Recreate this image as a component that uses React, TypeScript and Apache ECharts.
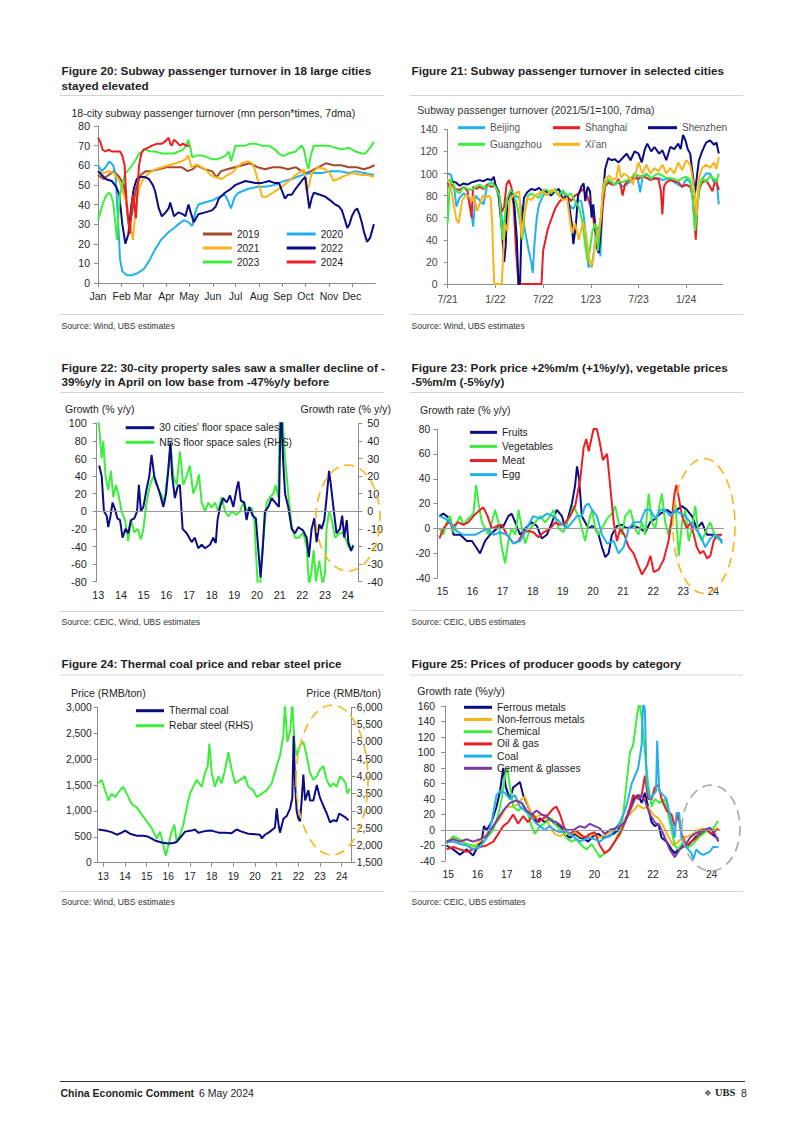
import React, { useEffect, useRef } from 'react';
import * as echarts from 'echarts';

type P = [number, number][];

const FONT = '"Liberation Sans", Arial, Helvetica, sans-serif';
const NAVY = '#0c0c84';
const BLUE = '#22b0ee';
const RED = '#ee1d23';
const GREEN = '#3dee3d';
const ORANGE = '#fbb41a';
const BROWN = '#a34a2e';
const PURPLE = '#7a3aa6';
const AXIS = '#8c8c8c';
const TEXT = '#1e1e1e';

// ---------- Figure 20 : day of year ----------
const monthLabels = ['Jan', 'Feb', 'Mar', 'Apr', 'May', 'Jun', 'Jul', 'Aug', 'Sep', 'Oct', 'Nov', 'Dec'];
const monthStarts = [0, 31, 59, 90, 120, 151, 181, 212, 243, 273, 304, 334];
const y2019: P = [[0,55],[7,53],[14,55],[21,57],[28,54],[34,50],[38,38],[41,28],[45,36],[50,48],[56,55],[63,57],[70,57],[80,58],[90,59],[100,59],[110,59],[118,57],[125,58],[130,60],[140,58],[150,57],[156,54],[162,57],[170,58],[180,59],[190,60],[200,61],[210,59],[220,58],[230,59],[240,59],[250,58],[260,59],[268,57],[274,56],[280,57],[290,59],[300,61],[310,60],[320,60],[330,59],[340,59],[350,58],[358,59],[364,60]];
const y2020: P = [[0,60],[5,57],[10,59],[15,62],[20,60],[23,55],[26,35],[29,12],[32,6],[38,4],[45,4],[52,5],[60,7],[67,11],[75,17],[83,22],[93,26],[100,28],[106,30],[113,32],[119,31],[124,29],[128,36],[132,40],[140,41],[150,42],[160,44],[167,45],[172,41],[175,38],[180,44],[185,46],[198,48],[210,49],[220,49],[233,50],[245,52],[255,53],[268,55],[281,56],[295,56],[305,57],[317,57],[330,56],[339,57],[350,56],[363,55]];
const y2021: P = [[0,57],[7,56],[14,57],[21,56],[28,52],[34,45],[38,40],[42,30],[46,22],[50,40],[54,48],[58,52],[67,56],[76,58],[84,59],[93,60],[102,61],[110,62],[115,63],[119,65],[123,59],[128,60],[132,60],[141,58],[148,55],[154,54],[163,53],[170,55],[176,56],[183,59],[189,61],[198,62],[203,61],[207,57],[212,50],[216,44],[222,44],[230,46],[238,48],[245,50],[251,52],[260,55],[268,57],[271,58],[274,47],[278,50],[281,56],[290,59],[299,58],[305,56],[310,52],[316,53],[321,54],[334,56],[347,55],[355,55],[363,54]];
const y2022: P = [[0,57],[5,55],[10,53],[18,52],[24,49],[28,45],[32,30],[36,20],[40,25],[44,40],[47,48],[51,53],[54,54],[62,54],[67,53],[72,50],[75,47],[80,38],[84,34],[89,36],[93,38],[95,41],[100,34],[106,36],[112,35],[115,34],[119,40],[122,36],[126,31],[132,35],[141,36],[150,37],[155,39],[159,43],[167,46],[175,48],[181,50],[194,52],[207,51],[216,51],[225,52],[232,51],[238,51],[243,46],[246,43],[250,45],[255,45],[260,48],[264,50],[270,53],[273,54],[276,44],[278,38],[281,43],[284,46],[292,45],[299,44],[306,42],[312,40],[317,39],[321,37],[325,32],[328,28],[331,30],[334,34],[338,37],[341,38],[344,35],[347,31],[350,26],[354,21],[358,23],[363,30]];
const y2023: P = [[0,32],[3,36],[6,40],[10,44],[14,46],[17,45],[20,41],[23,30],[25,22],[27,35],[29,45],[33,52],[36,56],[41,58],[45,60],[50,63],[54,66],[62,68],[70,67],[75,67],[84,66],[93,66],[100,66],[106,67],[112,68],[116,70],[119,73],[122,68],[124,64],[130,65],[137,65],[144,64],[150,63],[157,63],[163,64],[168,65],[172,67],[175,62],[178,66],[181,70],[190,70],[194,70],[200,71],[207,71],[215,70],[225,70],[233,68],[238,66],[242,65],[246,65],[251,66],[260,67],[265,69],[268,70],[271,68],[274,62],[277,58],[280,65],[284,70],[293,70],[303,70],[312,69],[321,68],[330,69],[339,67],[347,66],[352,66],[356,68],[360,70],[363,72]];
const y2024: P = [[0,74],[3,72],[6,68],[10,67],[14,68],[18,67],[23,67],[29,67],[32,65],[35,60],[37,45],[39,35],[42,25],[44,38],[46,45],[48,40],[50,33],[52,48],[54,60],[57,66],[60,68],[66,69],[71,70],[78,71],[84,71],[88,72],[93,74],[95,71],[97,70],[100,73],[103,72],[108,70],[112,71],[116,70],[120,70]];

// ---------- Figure 21 : months since Jul-2021 ----------
const f21Ticks = [0, 6, 12, 18, 24, 30];
const f21Labels = ['7/21', '1/22', '7/22', '1/23', '7/23', '1/24'];
const beijing: P = [[0,100],[0.4,99],[0.8,88],[1.1,70],[1.5,78],[2,82],[2.5,80],[2.9,70],[3.2,52],[3.5,80],[4,76],[4.5,72],[5,90],[5.5,92],[6,90],[6.4,84],[6.8,60],[7.1,48],[7.4,75],[8,82],[8.5,80],[9,78],[9.4,62],[9.8,45],[10.2,30],[10.5,20],[10.7,10],[10.9,35],[11.2,60],[11.5,72],[12,80],[12.5,84],[13,82],[13.5,84],[14,80],[14.5,83],[15,78],[15.4,70],[15.8,68],[16.3,76],[16.8,75],[17.1,62],[17.4,42],[17.7,15],[17.9,18],[18.1,15],[18.4,30],[18.7,48],[19,52],[19.2,25],[19.5,78],[19.8,92],[20.3,93],[21,90],[21.5,92],[22,88],[22.5,90],[23,93],[23.5,100],[23.9,96],[24.2,83],[24.5,96],[25,100],[25.5,96],[26,95],[26.5,96],[27,94],[27.5,95],[28,95],[28.5,92],[29,90],[29.5,88],[30,95],[30.5,92],[30.8,78],[31.1,55],[31.4,75],[31.7,88],[32,95],[32.5,100],[33,100],[33.5,92],[33.8,95],[34.1,72]];
const shanghai: P = [[0,88],[0.5,90],[1,86],[1.5,85],[2,88],[2.5,84],[3,60],[3.2,88],[3.6,86],[4,88],[4.5,86],[5,90],[5.5,88],[6,89],[6.4,84],[6.8,65],[7.1,70],[7.4,90],[7.7,94],[8,88],[8.3,70],[8.6,30],[8.9,0],[9.5,0],[10,0],[10.5,0],[11,0],[11.5,0],[11.8,0],[12,30],[12.3,40],[12.6,50],[13,58],[13.5,68],[14,74],[14.5,78],[15,80],[15.5,75],[16,80],[16.5,82],[17,86],[17.5,80],[17.9,72],[18.3,60],[18.6,45],[18.9,32],[19.2,40],[19.5,70],[19.8,88],[20.2,92],[20.6,90],[21,90],[21.5,95],[21.8,88],[22,80],[22.3,90],[22.6,93],[23,95],[23.5,96],[24,95],[24.5,98],[25,96],[25.5,94],[26,96],[26.5,95],[26.8,85],[27,63],[27.2,88],[27.5,92],[28,94],[28.5,93],[29,92],[29.5,88],[30,90],[30.5,88],[30.8,80],[31,60],[31.2,40],[31.4,70],[31.6,85],[32,92],[32.5,94],[33,88],[33.3,84],[33.7,95],[34.1,85]];
const shenzhen: P = [[0,90],[0.5,93],[1,92],[1.5,89],[2,91],[2.5,90],[3,92],[3.5,93],[4,94],[4.5,93],[5,95],[5.5,94],[5.8,97],[6,90],[6.4,80],[6.8,50],[7.1,20],[7.3,35],[7.5,75],[7.8,82],[8.1,85],[8.4,70],[8.7,40],[8.9,0],[9.1,0],[9.3,55],[9.6,78],[10,83],[10.5,86],[11,85],[11.5,87],[12,83],[12.5,84],[13,80],[13.5,84],[14,86],[14.5,76],[15,80],[15.3,70],[15.6,55],[15.8,36],[16.1,52],[16.4,80],[16.8,88],[17.1,91],[17.3,75],[17.6,88],[17.9,84],[18.1,60],[18.3,72],[18.6,50],[18.8,32],[19,28],[19.2,45],[19.5,80],[19.8,104],[20.2,114],[20.6,112],[21,113],[21.5,110],[22,114],[22.5,118],[23,112],[23.5,120],[24,118],[24.4,110],[24.8,122],[25.1,127],[25.6,120],[26,124],[26.6,118],[27,121],[27.5,112],[28,124],[28.5,122],[29,127],[29.3,122],[29.6,135],[29.9,130],[30.2,122],[30.5,118],[30.8,100],[31.1,82],[31.3,95],[31.6,112],[32,120],[32.5,128],[33,130],[33.5,126],[33.8,128],[34.1,118]];
const guangzhou: P = [[0,55],[0.3,95],[0.7,90],[1.1,84],[1.5,82],[2,88],[2.5,86],[3,85],[3.5,88],[4,90],[4.5,87],[5,88],[5.5,92],[6,88],[6.5,80],[6.9,40],[7.2,62],[7.5,78],[7.9,85],[8.3,82],[8.7,72],[9.1,56],[9.4,40],[9.7,65],[10.1,80],[10.5,82],[11,80],[11.5,78],[12,85],[12.5,85],[13,82],[13.5,86],[14,80],[14.5,85],[15,80],[15.5,82],[16,75],[16.5,70],[16.9,58],[17.3,35],[17.6,20],[17.9,32],[18.2,48],[18.6,55],[18.9,30],[19.2,55],[19.5,80],[19.8,90],[20.2,95],[21,90],[21.5,93],[22,92],[22.5,94],[23,95],[23.5,100],[24,98],[24.5,97],[25,100],[25.5,95],[26,98],[26.5,100],[27,98],[27.5,96],[28,96],[28.5,95],[29,93],[29.5,96],[30,97],[30.5,95],[30.8,78],[31.1,48],[31.4,70],[31.7,88],[32,96],[32.5,92],[33,98],[33.5,95],[33.8,92],[34.1,100]];
const xian: P = [[0,95],[0.4,88],[0.8,70],[1.1,58],[1.4,55],[1.8,75],[2.2,80],[2.6,80],[3,75],[3.3,80],[3.7,66],[4,72],[4.4,80],[4.8,78],[5.1,80],[5.4,78],[5.6,55],[5.75,20],[5.85,0],[6.3,0],[6.8,0],[7,30],[7.2,55],[7.5,48],[7.8,75],[8.2,80],[8.6,82],[9,84],[9.3,42],[9.6,62],[10,78],[10.5,76],[11,80],[11.5,82],[12,84],[12.5,80],[13,85],[13.5,84],[14,80],[14.5,76],[15,78],[15.3,62],[15.6,46],[16,55],[16.5,40],[17,56],[17.4,45],[17.7,28],[18,16],[18.3,22],[18.6,40],[19,50],[19.3,62],[19.5,85],[19.8,95],[20.3,98],[20.8,94],[21.2,96],[21.5,108],[21.8,96],[22.2,100],[22.6,98],[23,95],[23.3,90],[23.7,102],[24,110],[24.5,100],[25,108],[25.5,100],[26,105],[26.5,102],[27,108],[27.5,100],[28,105],[28.5,100],[29,110],[29.5,103],[30,112],[30.5,108],[30.8,95],[31.1,80],[31.3,62],[31.6,95],[32,105],[32.5,108],[33,105],[33.5,110],[33.8,104],[34.1,115]];

// ---------- Figure 22 : years ----------
const f22Ticks = [13, 14, 15, 16, 17, 18, 19, 20, 21, 22, 23, 24];
const cities30: P = [[13.04,52],[13.15,40],[13.25,0],[13.37,-5],[13.44,-18],[13.54,-5],[13.63,10],[13.74,2],[13.84,-8],[13.96,-10],[14.07,-30],[14.2,-20],[14.32,-25],[14.44,-10],[14.59,-8],[14.71,0],[14.79,30],[14.88,0],[14.99,5],[15.13,25],[15.25,40],[15.35,64],[15.47,40],[15.59,30],[15.72,20],[15.87,5],[15.99,20],[16.09,47],[16.18,78],[16.26,40],[16.38,15],[16.5,28],[16.6,30],[16.72,-20],[16.9,-25],[17.12,-35],[17.26,-30],[17.41,-42],[17.56,-38],[17.71,-42],[17.93,-38],[18.07,-30],[18.18,-36],[18.26,-10],[18.37,5],[18.51,15],[18.66,10],[18.81,18],[18.96,5],[19.1,25],[19.18,34],[19.29,12],[19.44,10],[19.54,-10],[19.66,5],[19.81,-5],[19.95,-8],[20.08,-50],[20.16,-75],[20.25,-45],[20.35,0],[20.5,5],[20.65,15],[20.87,8],[20.97,5],[21.06,130],[21.15,60],[21.24,20],[21.38,5],[21.53,-20],[21.68,-25],[21.82,-18],[22.04,-22],[22.19,-30],[22.29,-52],[22.41,-20],[22.53,-8],[22.63,-35],[22.75,-15],[22.85,-20],[22.97,-10],[23.07,15],[23.18,46],[23.26,30],[23.37,5],[23.51,-25],[23.66,-20],[23.76,-5],[23.85,-30],[23.96,-10],[24.03,-35],[24.15,-45],[24.25,-39]];
const nbsSales: P = [[12.95,55],[13.03,49],[13.15,30],[13.22,40],[13.32,20],[13.44,12],[13.56,23],[13.66,8],[13.78,15],[13.88,10],[14.03,0],[14.18,-5],[14.32,-17],[14.44,-5],[14.59,-12],[14.74,-10],[14.88,-16],[14.99,-10],[15.13,5],[15.28,15],[15.43,20],[15.57,15],[15.76,10],[15.91,5],[16.09,25],[16.19,38],[16.31,20],[16.46,15],[16.6,34],[16.75,15],[16.9,20],[17.04,26],[17.19,10],[17.34,15],[17.44,21],[17.56,5],[17.71,0],[17.85,5],[18,2],[18.15,5],[18.29,0],[18.44,8],[18.59,0],[18.74,-3],[18.88,0],[19.1,-2],[19.25,0],[19.4,5],[19.59,0],[19.76,2],[19.88,-5],[19.96,-25],[20.05,-45],[20.13,-45],[20.21,-25],[20.32,-10],[20.43,5],[20.57,8],[20.72,10],[20.82,15],[20.94,8],[21.02,60],[21.12,55],[21.24,30],[21.38,10],[21.53,-8],[21.68,-15],[21.85,-15],[22.04,-12],[22.19,-20],[22.3,-42],[22.4,-35],[22.5,-22],[22.6,-40],[22.75,-28],[22.9,-42],[23,-35],[23.07,-10],[23.18,0],[23.31,-5],[23.44,-15],[23.6,-13],[23.75,-12],[23.9,-15],[24.03,-20],[24.15,-22],[24.25,-19]];

// ---------- Figure 23 ----------
const f23Ticks = [15, 16, 17, 18, 19, 20, 21, 22, 23, 24];
const fruits: P = [[14.9,10],[15.03,12],[15.14,10],[15.25,8],[15.37,-5],[15.59,-5],[15.81,-10],[15.98,-10],[16.12,-15],[16.25,-20],[16.42,-10],[16.58,-5],[16.81,0],[17.03,2],[17.19,10],[17.3,12],[17.42,5],[17.58,-5],[17.75,0],[17.97,5],[18.14,2],[18.3,-8],[18.47,-5],[18.64,5],[18.8,15],[18.97,10],[19.08,0],[19.19,10],[19.3,20],[19.41,35],[19.47,50],[19.54,40],[19.63,10],[19.74,5],[19.86,0],[19.97,2],[20.08,0],[20.19,-5],[20.3,-15],[20.41,-23],[20.52,-20],[20.63,-5],[20.8,2],[20.96,3],[21.13,0],[21.35,2],[21.57,0],[21.74,-3],[21.9,5],[22.07,8],[22.24,12],[22.46,15],[22.63,12],[22.79,15],[22.96,18],[23.12,15],[23.29,10],[23.45,0],[23.62,5],[23.79,-5],[24.01,-5],[24.18,-8],[24.29,-10]];
const vegetables: P = [[14.9,0],[15.03,-5],[15.14,5],[15.25,10],[15.37,-3],[15.48,5],[15.59,10],[15.7,3],[15.86,8],[16.03,12],[16.12,35],[16.2,20],[16.31,5],[16.42,0],[16.53,-5],[16.64,5],[16.75,15],[16.86,5],[16.97,-15],[17.08,-28],[17.19,-10],[17.3,0],[17.42,-5],[17.53,15],[17.64,0],[17.75,-12],[17.92,0],[18.08,5],[18.25,10],[18.41,5],[18.58,10],[18.69,15],[18.86,0],[19.02,-3],[19.13,5],[19.24,10],[19.35,18],[19.52,10],[19.63,0],[19.74,-10],[19.86,5],[19.97,15],[20.08,0],[20.19,-5],[20.3,0],[20.47,8],[20.63,12],[20.74,18],[20.85,5],[20.96,-5],[21.07,10],[21.24,15],[21.4,0],[21.51,-5],[21.63,5],[21.74,-5],[21.85,28],[21.96,5],[22.07,0],[22.18,15],[22.29,28],[22.4,5],[22.51,-5],[22.63,10],[22.74,20],[22.85,-22],[22.96,5],[23.07,15],[23.18,-10],[23.29,0],[23.4,18],[23.51,-5],[23.62,-10],[23.79,0],[23.9,5],[24.01,-3],[24.12,-8],[24.25,-5]];
const meat: P = [[14.9,-8],[15.03,0],[15.2,5],[15.37,2],[15.53,5],[15.7,3],[15.86,5],[16.03,10],[16.25,15],[16.36,17],[16.5,10],[16.64,0],[16.81,2],[16.97,3],[17.14,-5],[17.36,-12],[17.53,-10],[17.69,-3],[17.86,-2],[18.02,-3],[18.19,-7],[18.36,-3],[18.58,0],[18.75,5],[18.91,3],[19.08,5],[19.24,10],[19.41,18],[19.58,40],[19.69,65],[19.78,72],[19.86,62],[19.93,70],[20.02,80],[20.13,80],[20.22,70],[20.33,55],[20.41,58],[20.47,60],[20.55,40],[20.69,5],[20.8,-10],[20.91,0],[21.04,-5],[21.19,-15],[21.35,-20],[21.51,-30],[21.63,-37],[21.8,-30],[21.91,-22],[22.02,-35],[22.18,-33],[22.35,-25],[22.51,-10],[22.63,10],[22.71,28],[22.77,35],[22.85,25],[22.96,10],[23.12,0],[23.24,5],[23.35,-5],[23.45,-15],[23.56,-20],[23.67,-18],[23.79,-24],[23.9,-22],[24.01,-10],[24.12,-5],[24.29,-5]];
const egg: P = [[14.9,10],[15.09,8],[15.25,5],[15.48,-2],[15.7,-5],[15.92,-5],[16.09,-5],[16.25,-3],[16.47,0],[16.7,-5],[16.92,-3],[17.14,-5],[17.36,-12],[17.58,-10],[17.8,0],[18.02,10],[18.25,8],[18.47,12],[18.69,10],[18.91,5],[19.13,0],[19.3,5],[19.47,10],[19.63,10],[19.74,18],[19.86,20],[19.97,15],[20.13,10],[20.3,-5],[20.47,-12],[20.69,-10],[20.85,-20],[21.02,-15],[21.19,0],[21.35,5],[21.57,5],[21.74,15],[21.9,15],[22.07,8],[22.24,15],[22.4,15],[22.57,10],[22.74,15],[22.9,12],[23.07,10],[23.24,5],[23.4,0],[23.56,-5],[23.73,-15],[23.9,-8],[24.07,-5],[24.21,-8],[24.29,-12]];

// ---------- Figure 24 ----------
const f24Ticks = [13, 14, 15, 16, 17, 18, 19, 20, 21, 22, 23, 24];
const thermalCoal: P = [[12.77,640],[13.08,620],[13.38,590],[13.62,540],[13.85,580],[14,620],[14.23,560],[14.54,520],[14.85,520],[15.08,500],[15.38,430],[15.69,390],[16,370],[16.23,380],[16.38,400],[16.62,520],[16.77,600],[17.08,620],[17.23,640],[17.38,580],[17.69,610],[18,620],[18.31,580],[18.62,580],[18.92,570],[19.15,640],[19.38,600],[19.69,560],[20,550],[20.23,540],[20.31,470],[20.46,540],[20.69,600],[20.92,680],[21,1050],[21.08,750],[21.15,580],[21.31,850],[21.46,900],[21.62,1050],[21.72,1250],[21.78,2450],[21.85,1500],[21.92,1000],[22,850],[22.08,800],[22.15,1200],[22.23,1700],[22.31,1200],[22.46,1400],[22.54,1200],[22.69,1200],[22.85,1500],[23,1250],[23.15,1100],[23.31,950],[23.46,780],[23.62,820],[23.77,800],[23.88,950],[24,920],[24.15,880],[24.31,820]];
const rebarSteel: P = [[12.77,3800],[12.92,3900],[13.08,3600],[13.23,3300],[13.38,3500],[13.54,3400],[13.77,3600],[13.92,3700],[14.08,3500],[14.31,3200],[14.54,3100],[14.77,2900],[15,2700],[15.23,2500],[15.46,2200],[15.62,2400],[15.77,2000],[15.88,1700],[16,2000],[16.15,2400],[16.28,2600],[16.38,2100],[16.54,2300],[16.69,2600],[16.85,3100],[17,3500],[17.15,3700],[17.31,3900],[17.54,3700],[17.69,4100],[17.82,4300],[17.89,4950],[18,4100],[18.15,3700],[18.31,4000],[18.46,3800],[18.62,4200],[18.77,4700],[18.92,4200],[19.08,3800],[19.31,3900],[19.54,4000],[19.69,3700],[19.92,3600],[20.08,3400],[20.31,3500],[20.54,3600],[20.77,3800],[21,4300],[21.15,4600],[21.31,5200],[21.38,6100],[21.49,5000],[21.62,5300],[21.72,6100],[21.82,5000],[21.92,4600],[22.08,4900],[22.23,5000],[22.38,4600],[22.54,4100],[22.69,3900],[22.85,4000],[23,4200],[23.15,4300],[23.31,3900],[23.46,3700],[23.62,3800],[23.77,3700],[23.92,4000],[24.08,3900],[24.18,3800],[24.26,3500],[24.38,3650]];

// ---------- Figure 25 ----------
const f25Ticks = [15, 16, 17, 18, 19, 20, 21, 22, 23, 24];
const ferrous: P = [[14.94,-20],[15.17,-25],[15.4,-32],[15.63,-25],[15.85,-33],[16.03,-20],[16.14,-15],[16.22,5],[16.31,0],[16.48,10],[16.65,30],[16.77,50],[16.88,80],[16.97,55],[17.11,40],[17.22,55],[17.33,58],[17.45,62],[17.56,45],[17.68,35],[17.85,20],[18.02,10],[18.13,15],[18.3,10],[18.47,15],[18.64,8],[18.82,5],[18.99,-5],[19.16,-10],[19.33,-5],[19.5,-10],[19.67,-12],[19.78,-15],[19.95,-8],[20.13,-5],[20.3,-10],[20.47,-8],[20.64,-5],[20.81,0],[20.98,10],[21.15,20],[21.32,40],[21.49,45],[21.61,35],[21.72,48],[21.83,30],[21.95,10],[22.06,5],[22.18,8],[22.29,-10],[22.46,-15],[22.63,-25],[22.74,-30],[22.86,-25],[22.97,-20],[23.14,-22],[23.31,-15],[23.48,-8],[23.66,-5],[23.83,0],[24,-5],[24.11,-8],[24.23,-12]];
const nonFerrous: P = [[14.94,-15],[15.17,-10],[15.4,-15],[15.63,-18],[15.85,-22],[16.08,-15],[16.31,-5],[16.54,5],[16.77,15],[16.99,30],[17.16,30],[17.33,32],[17.51,40],[17.62,43],[17.79,25],[17.96,15],[18.13,20],[18.3,18],[18.47,5],[18.64,-5],[18.82,-8],[18.99,-5],[19.16,-5],[19.33,-3],[19.5,-8],[19.73,-10],[19.95,-5],[20.18,-10],[20.41,-5],[20.64,0],[20.87,8],[21.09,15],[21.32,25],[21.49,32],[21.66,28],[21.83,30],[22,20],[22.18,15],[22.35,5],[22.52,-8],[22.69,-20],[22.86,-15],[23.03,-10],[23.2,-8],[23.37,-5],[23.54,0],[23.71,2],[23.88,0],[24.05,0],[24.23,3]];
const chemical: P = [[14.94,-18],[15.17,-8],[15.4,-12],[15.63,-18],[15.85,-20],[16.08,-22],[16.31,-10],[16.54,0],[16.71,20],[16.82,40],[16.94,70],[17.02,80],[17.11,55],[17.22,30],[17.39,25],[17.56,30],[17.73,20],[17.85,5],[17.96,-5],[18.13,5],[18.36,10],[18.53,15],[18.7,5],[18.87,0],[19.04,-10],[19.21,-15],[19.38,-12],[19.56,-20],[19.73,-25],[19.9,-18],[20.07,-28],[20.18,-35],[20.35,-30],[20.52,-25],[20.69,-15],[20.87,0],[20.98,20],[21.09,60],[21.21,100],[21.32,110],[21.44,145],[21.53,165],[21.61,145],[21.72,100],[21.83,60],[21.95,30],[22.06,40],[22.23,35],[22.4,40],[22.52,20],[22.63,0],[22.74,-20],[22.86,-25],[23.03,-15],[23.2,-22],[23.37,-18],[23.54,-10],[23.71,-5],[23.88,0],[24.05,2],[24.23,12]];
const oilGas: P = [[14.94,-25],[15.17,-22],[15.4,-25],[15.63,-28],[15.85,-25],[16.08,-22],[16.31,-20],[16.54,-15],[16.71,-5],[16.88,5],[17.05,10],[17.22,20],[17.39,8],[17.56,18],[17.73,10],[17.9,20],[18.08,10],[18.25,15],[18.42,20],[18.59,28],[18.7,30],[18.82,20],[18.99,0],[19.16,-5],[19.33,0],[19.5,-5],[19.67,-10],[19.84,-5],[20.01,-3],[20.18,-20],[20.35,-30],[20.52,-25],[20.69,-15],[20.87,-5],[21.04,10],[21.21,30],[21.32,45],[21.49,40],[21.61,45],[21.72,70],[21.83,40],[21.95,40],[22.06,55],[22.18,58],[22.29,40],[22.46,25],[22.63,20],[22.74,5],[22.86,20],[22.97,-5],[23.14,-20],[23.31,-15],[23.48,-10],[23.66,0],[23.83,0],[24,-5],[24.17,0],[24.26,0]];
const coal: P = [[14.94,-15],[15.17,-15],[15.4,-18],[15.63,-20],[15.85,-25],[16.08,-22],[16.31,-10],[16.48,10],[16.65,45],[16.77,50],[16.94,48],[17.11,40],[17.28,45],[17.45,30],[17.62,25],[17.79,20],[17.96,10],[18.13,5],[18.3,0],[18.47,5],[18.64,0],[18.82,-3],[18.99,0],[19.16,-5],[19.33,-10],[19.5,-15],[19.67,-12],[19.84,-10],[20.01,-12],[20.18,-15],[20.35,-10],[20.52,-8],[20.69,0],[20.87,10],[21.04,25],[21.15,40],[21.27,60],[21.38,70],[21.49,80],[21.61,110],[21.66,165],[21.72,155],[21.78,60],[21.89,40],[22,45],[22.1,50],[22.14,115],[22.21,50],[22.35,45],[22.46,40],[22.57,20],[22.69,0],[22.74,-10],[22.8,22],[22.89,22],[22.97,-10],[23.09,-20],[23.2,-25],[23.31,-30],[23.37,-38],[23.48,-25],[23.6,-30],[23.71,-32],[23.83,-30],[23.94,-28],[24.05,-22],[24.23,-22]];
const cementGlass: P = [[14.94,-15],[15.17,-12],[15.4,-15],[15.63,-12],[15.85,-15],[16.08,-12],[16.31,-8],[16.54,5],[16.71,15],[16.88,25],[17.11,35],[17.33,38],[17.51,35],[17.68,25],[17.85,20],[18.02,25],[18.19,20],[18.36,18],[18.53,12],[18.7,10],[18.87,5],[19.04,0],[19.27,0],[19.5,5],[19.67,3],[19.84,8],[20.01,5],[20.18,2],[20.35,-5],[20.52,0],[20.69,2],[20.87,5],[21.04,10],[21.21,25],[21.38,40],[21.55,45],[21.72,38],[21.89,20],[22.06,10],[22.23,5],[22.4,-10],[22.57,-25],[22.74,-35],[22.91,-25],[23.09,-20],[23.26,-10],[23.42,-5],[23.6,-2],[23.77,0],[23.94,3],[24.11,-5],[24.23,-15]];

// ---------- helpers ----------
const fmtComma = (v: number) => String(v).replace(/\B(?=(\d{3})+(?!\d))/g, ',');

function xVal(gridIndex: number, min: number, max: number, ticks: number[], labels: string[], o: any) {
  return {
    type: 'value', gridIndex, min, max,
    axisLine: { show: !!o.line, onZero: false, lineStyle: { color: AXIS, width: 1 } },
    axisTick: { show: !!o.line, customValues: ticks, length: 4, lineStyle: { color: AXIS } },
    axisLabel: {
      customValues: ticks,
      formatter: (v: number) => { const i = ticks.findIndex((t) => Math.abs(t - v) < 1e-6); return i >= 0 ? labels[i] : ''; },
      margin: o.margin, fontSize: o.size, fontFamily: FONT, color: o.color ?? TEXT,
    },
    splitLine: { show: false },
  };
}
function yVal(gridIndex: number, min: number, max: number, interval: number, o: any) {
  return {
    type: 'value', gridIndex, min, max, interval, position: o.position ?? 'left',
    axisLine: { show: true, onZero: false, lineStyle: { color: AXIS, width: 1 } },
    axisTick: { show: true, length: 4, lineStyle: { color: AXIS } },
    axisLabel: { margin: o.margin, fontSize: o.size, fontFamily: FONT, color: o.color ?? TEXT, formatter: o.formatter },
    splitLine: { show: false },
  };
}
function ln(name: string, data: P, color: string, xi: number, yi: number, extra: any = {}) {
  return {
    type: 'line', name, data, xAxisIndex: xi, yAxisIndex: yi, color,
    showSymbol: false, symbol: 'none', clip: true, animation: false,
    lineStyle: { width: 2, color }, itemStyle: { color }, emphasis: { disabled: true },
    ...extra,
  };
}
function leg(names: string[], left: number, top: number, rowH: number, itemWidth: number, size: number, color = TEXT) {
  return {
    data: names, orient: 'vertical', left, top, itemWidth, itemHeight: 3, itemGap: 0, icon: 'rect',
    padding: 0, selectedMode: false,
    textStyle: { fontSize: size, fontFamily: FONT, color, lineHeight: rowH },
  };
}
const zeroLine = {
  silent: true, symbol: 'none', label: { show: false },
  lineStyle: { color: '#9a9a9a', width: 1, type: 'solid' },
  data: [{ yAxis: 0 }],
};
function txt(x: number, y: number, text: string, o: any = {}) {
  const align = o.align ?? 'left';
  return {
    type: 'text', x, y, silent: true, z: 50,
    style: {
      text, fontFamily: o.family ?? FONT, fontSize: o.size ?? 10.5, fontWeight: o.bold ? 'bold' : 'normal',
      fill: o.color ?? TEXT, align, textAlign: align, verticalAlign: 'middle', textVerticalAlign: 'middle',
    },
  };
}
function hline(x1: number, x2: number, y: number, color = '#d4d4d4', w = 1) {
  return { type: 'line', silent: true, shape: { x1, y1: y, x2, y2: y }, style: { stroke: color, lineWidth: w } };
}
function ell(cx: number, cy: number, rx: number, ry: number, color: string) {
  return { type: 'ellipse', silent: true, z: 60, shape: { cx, cy, rx, ry }, style: { fill: 'none', stroke: color, lineWidth: 1.6, lineDash: [10, 6] } };
}

const TB = { bold: true, size: 11.7 };
const SRC = { size: 8.6, color: '#333' };

export default function App() {
  const ref = useRef<HTMLDivElement>(null);
  useEffect(() => {
    if (!ref.current) return;
    const chart = echarts.init(ref.current, undefined, { renderer: 'svg' });
    const option: any = {
      animation: false,
      backgroundColor: '#ffffff',
      textStyle: { fontFamily: FONT },
      grid: [
        { left: 98, top: 126, width: 277.4, height: 157, outerBoundsMode: 'none', containLabel: false },
        { left: 447.7, top: 129.3, width: 275.1, height: 154.7, outerBoundsMode: 'none', containLabel: false },
        { left: 96.7, top: 423.3, width: 261.6, height: 158.4, outerBoundsMode: 'none', containLabel: false },
        { left: 437.3, top: 429, width: 286.6, height: 149.3, outerBoundsMode: 'none', containLabel: false },
        { left: 97.7, top: 707.3, width: 254, height: 155.4, outerBoundsMode: 'none', containLabel: false },
        { left: 445, top: 706, width: 275.4, height: 155, outerBoundsMode: 'none', containLabel: false },
      ],
      xAxis: [
        xVal(0, 0, 365, monthStarts, monthLabels, { line: true, margin: 7, size: 10.5 }),
        xVal(1, 0, 34.6, f21Ticks, f21Labels, { line: true, margin: 9, size: 10.5, color: '#444' }),
        xVal(2, 12.93, 24.47, f22Ticks, f22Ticks.map(String), { line: false, margin: 7.5, size: 10.8 }),
        xVal(3, 14.83, 24.35, f23Ticks, f23Ticks.map(String), { line: false, margin: 8.5, size: 10.3 }),
        xVal(4, 12.74, 24.46, f24Ticks, f24Ticks.map(String), { line: true, margin: 9, size: 10.3 }),
        xVal(5, 14.89, 24.3, f25Ticks, f25Ticks.map(String), { line: false, margin: 8, size: 10.3 }),
      ],
      yAxis: [
        yVal(0, 0, 80, 10, { margin: 8, size: 10.5 }),
        yVal(1, 0, 140, 20, { margin: 10, size: 10.5, color: '#444' }),
        yVal(2, -80, 100, 20, { margin: 10, size: 10.8 }),
        yVal(2, -40, 50, 10, { margin: 9, size: 10.8, position: 'right' }),
        yVal(3, -40, 80, 20, { margin: 7, size: 10.3 }),
        yVal(4, 0, 3000, 500, { margin: 6, size: 10.3, formatter: fmtComma }),
        yVal(4, 1500, 6000, 500, { margin: 5, size: 10.3, position: 'right', formatter: fmtComma }),
        yVal(5, -40, 160, 20, { margin: 10, size: 10.3 }),
      ],
      legend: [
        leg(['2019', '2021', '2023'], 203, 227, 14, 29, 10),
        leg(['2020', '2022', '2024'], 286.7, 227, 14, 29, 10),
        leg(['Beijing', 'Guangzhou'], 458, 119.4, 16.6, 27, 10, '#555'),
        leg(['Shanghai', "Xi'an"], 553, 119.4, 16.6, 27, 10, '#555'),
        leg(['Shenzhen'], 648, 119.4, 16.6, 29, 10, '#555'),
        leg(["30 cities' floor space sales", 'NBS floor space sales (RHS)'], 125.7, 420.4, 14.6, 28.6, 10.3),
        leg(['Fruits', 'Vegetables', 'Meat', 'Egg'], 470, 425.3, 14.1, 27, 10.3),
        leg(['Thermal coal', 'Rebar steel (RHS)'], 136, 703.2, 15, 28, 10.3),
        leg(['Ferrous metals', 'Non-ferrous metals', 'Chemical', 'Oil & gas', 'Coal', 'Cement & glasses'], 464, 701.2, 12.2, 28, 10.3),
      ],
      series: [
        ln('2019', y2019, BROWN, 0, 0),
        ln('2020', y2020, BLUE, 0, 0),
        ln('2021', y2021, ORANGE, 0, 0),
        ln('2022', y2022, NAVY, 0, 0),
        ln('2023', y2023, GREEN, 0, 0),
        ln('2024', y2024, RED, 0, 0),

        ln('Beijing', beijing, BLUE, 1, 1),
        ln('Shanghai', shanghai, RED, 1, 1),
        ln('Shenzhen', shenzhen, NAVY, 1, 1),
        ln('Guangzhou', guangzhou, GREEN, 1, 1),
        ln("Xi'an", xian, ORANGE, 1, 1),

        ln('NBS floor space sales (RHS)', nbsSales, GREEN, 2, 3),
        ln("30 cities' floor space sales", cities30, NAVY, 2, 2, { markLine: zeroLine }),

        ln('Fruits', fruits, NAVY, 3, 4, { markLine: zeroLine }),
        ln('Vegetables', vegetables, GREEN, 3, 4),
        ln('Meat', meat, RED, 3, 4),
        ln('Egg', egg, BLUE, 3, 4),

        ln('Rebar steel (RHS)', rebarSteel, GREEN, 4, 6),
        ln('Thermal coal', thermalCoal, NAVY, 4, 5),

        ln('Ferrous metals', ferrous, NAVY, 5, 7, { markLine: zeroLine }),
        ln('Non-ferrous metals', nonFerrous, ORANGE, 5, 7),
        ln('Chemical', chemical, GREEN, 5, 7),
        ln('Oil & gas', oilGas, RED, 5, 7),
        ln('Coal', coal, BLUE, 5, 7),
        ln('Cement & glasses', cementGlass, PURPLE, 5, 7),
      ],
      graphic: {
        elements: [
          // Figure 20
          txt(61.5, 70.5, 'Figure 20: Subway passenger turnover in 18 large cities', TB),
          txt(61.5, 85, 'stayed elevated', TB),
          hline(60, 384, 95.5),
          txt(71.5, 112.7, '18-city subway passenger turnover (mn person*times, 7dma)'),
          hline(60, 384, 314.5),
          txt(61.5, 325.5, 'Source: Wind, UBS estimates', SRC),
          // Figure 21
          txt(411.5, 70.5, 'Figure 21: Subway passenger turnover in selected cities', TB),
          hline(410, 743, 95.5),
          txt(417.3, 110, 'Subway passenger turnover (2021/5/1=100, 7dma)', { color: '#333' }),
          hline(410, 743, 314.5),
          txt(411.5, 325.5, 'Source: Wind, UBS estimates', SRC),
          // Figure 22
          txt(61.5, 367.5, 'Figure 22: 30-city property sales saw a smaller decline of -', TB),
          txt(61.5, 381.5, '39%y/y in April on low base from -47%y/y before', TB),
          hline(60, 384, 392.5),
          txt(65, 409, 'Growth (% y/y)'),
          txt(391, 409, 'Growth rate (% y/y)', { align: 'right' }),
          hline(60, 384, 611.5),
          txt(61.5, 621.5, 'Source: CEIC, Wind, UBS estimates', SRC),
          ell(348, 518, 32, 53, ORANGE),
          // Figure 23
          txt(411.5, 367.5, 'Figure 23: Pork price +2%m/m (+1%y/y), vegetable prices', TB),
          txt(411.5, 381.5, '-5%m/m (-5%y/y)', TB),
          hline(410, 743, 392.5),
          txt(420, 410, 'Growth rate (% y/y)'),
          hline(410, 743, 610.5),
          txt(411.5, 621.5, 'Source: CEIC, UBS estimates', SRC),
          ell(704, 526, 31, 67.5, ORANGE),
          // Figure 24
          txt(61.5, 663.5, 'Figure 24: Thermal coal price and rebar steel price', TB),
          hline(60, 384, 675),
          txt(71, 692.7, 'Price (RMB/ton)'),
          txt(381, 692.7, 'Price (RMB/ton)', { align: 'right' }),
          hline(60, 384, 891.5),
          txt(61.5, 902.3, 'Source: Wind, UBS estimates', SRC),
          ell(332, 780, 36, 75, ORANGE),
          // Figure 25
          txt(411.5, 663.5, 'Figure 25: Prices of producer goods by category', TB),
          hline(410, 743, 675),
          txt(417.3, 690.7, 'Growth rate (%y/y)'),
          hline(410, 743, 891.5),
          txt(411.5, 902.3, 'Source: CEIC, UBS estimates', SRC),
          ell(711, 828, 29, 43, '#a8a8a8'),
          // Footer
          hline(60, 745, 1081.5, '#333', 1.2),
          txt(60.5, 1092.5, 'China Economic Comment', { bold: true, size: 10.5 }),
          txt(199, 1092.5, '6 May 2024', { size: 10.5 }),
          txt(704, 1092.5, '\u2756', { size: 8.5, color: '#555', family: '"DejaVu Sans", sans-serif' }),
          txt(715, 1092.5, 'UBS', { bold: true, size: 10.5, family: '"Liberation Serif", serif' }),
          txt(741, 1092.5, '8', { size: 10.5 }),
        ],
      },
    };
    chart.setOption(option);
    return () => chart.dispose();
  }, []);
  return (
    <div
      ref={ref}
      style={{ position: 'absolute', left: 0, top: 0, width: 802, height: 1134, background: '#fff' }}
    />
  );
}
